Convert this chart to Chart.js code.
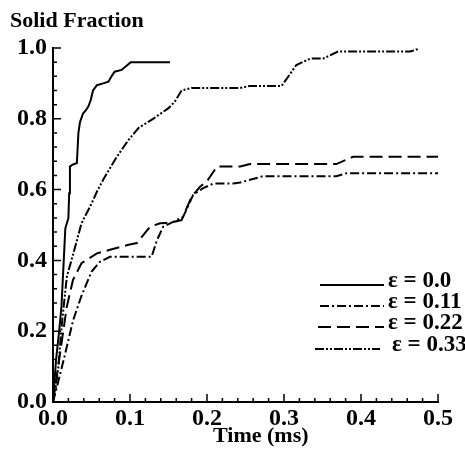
<!DOCTYPE html>
<html>
<head>
<meta charset="utf-8">
<script src="https://cdn.jsdelivr.net/npm/chart.js@4.4.0/dist/chart.umd.min.js"></script>
<style>
  body { margin: 0; background: #fff; }
</style>
</head>
<body>
<canvas id="solidFraction" width="465" height="453"></canvas>
<script>
const seriesLabels = ["ε = 0.0", "ε = 0.11", "ε = 0.22", "ε = 0.33"];

// time (ms) / solid fraction
const time00 = [0, 0.004, 0.008, 0.011, 0.016, 0.02, 0.021, 0.022, 0.025, 0.031, 0.033, 0.035, 0.039, 0.043, 0.046, 0.049, 0.052, 0.057, 0.065, 0.072, 0.076, 0.08, 0.089, 0.094, 0.101, 0.152];
const frac00 = [0, 0.12, 0.2, 0.27, 0.49, 0.52, 0.59, 0.665, 0.67, 0.675, 0.76, 0.79, 0.815, 0.825, 0.835, 0.853, 0.88, 0.895, 0.9, 0.905, 0.92, 0.933, 0.938, 0.947, 0.96, 0.96];

const time11 = [0, 0.006, 0.016, 0.026, 0.037, 0.05, 0.061, 0.074, 0.096, 0.128, 0.135, 0.143, 0.156, 0.169, 0.182, 0.195, 0.208, 0.234, 0.243, 0.273, 0.368, 0.381, 0.5];
const frac11 = [0, 0.05, 0.138, 0.23, 0.3, 0.368, 0.396, 0.41, 0.41, 0.41, 0.457, 0.495, 0.509, 0.523, 0.585, 0.604, 0.617, 0.617, 0.62, 0.638, 0.638, 0.646, 0.646];

const time22 = [0, 0.008, 0.018, 0.026, 0.037, 0.057, 0.074, 0.098, 0.109, 0.126, 0.139, 0.152, 0.167, 0.18, 0.191, 0.201, 0.213, 0.243, 0.256, 0.368, 0.39, 0.5];
const frac22 = [0, 0.12, 0.27, 0.345, 0.392, 0.42, 0.43, 0.444, 0.449, 0.495, 0.505, 0.506, 0.514, 0.58, 0.608, 0.627, 0.665, 0.665, 0.672, 0.672, 0.693, 0.693];

const time33 = [0, 0.004, 0.007, 0.011, 0.018, 0.029, 0.037, 0.05, 0.057, 0.065, 0.07, 0.083, 0.098, 0.111, 0.13, 0.15, 0.158, 0.167, 0.18, 0.243, 0.256, 0.297, 0.316, 0.334, 0.351, 0.37, 0.464, 0.474];
const frac33 = [0, 0.05, 0.1, 0.21, 0.354, 0.44, 0.505, 0.56, 0.594, 0.627, 0.646, 0.693, 0.74, 0.774, 0.8, 0.83, 0.848, 0.88, 0.887, 0.887, 0.893, 0.893, 0.952, 0.97, 0.97, 0.99, 0.99, 0.997];

const xTicks = [0, 0.1, 0.2, 0.3, 0.4, 0.5];
const yTicks = [0, 0.2, 0.4, 0.6, 0.8, 1.0];

const toPoints = (xs, ys) => xs.map((x, i) => ({ x: x, y: ys[i] }));

const serif = "'Liberation Serif', 'Times New Roman', serif";

const makeSet = (label, xs, ys, dash) => ({
  label: label,
  data: toPoints(xs, ys),
  borderColor: "#000",
  borderWidth: 2,
  borderDash: dash,
  pointRadius: 0,
  tension: 0,
  fill: false,
});

// inward major/minor tick marks like the original plot
const inwardTicks = {
  id: "inwardTicks",
  afterDatasetsDraw(chart) {
    const { ctx, chartArea, scales } = chart;
    ctx.save();
    ctx.strokeStyle = "#000";
    ctx.lineWidth = 1.5;
    ctx.setLineDash([]);
    ctx.beginPath();
    for (let i = 0; i <= 25; i++) {
      let px = scales.x.getPixelForValue(i * 0.02);
      let len = i % 5 === 0 ? 8 : 4;
      ctx.moveTo(px, chartArea.bottom);
      ctx.lineTo(px, chartArea.bottom - len);
    }
    for (let i = 0; i <= 25; i++) {
      let py = scales.y.getPixelForValue(i * 0.04);
      let len = i % 5 === 0 ? 8 : 4;
      ctx.moveTo(chartArea.left, py);
      ctx.lineTo(chartArea.left + len, py);
    }
    ctx.stroke();
    ctx.restore();
  },
};

const textsAndLegend = {
  id: "textsAndLegend",
  afterDraw(chart) {
    const ctx = chart.ctx;
    ctx.save();
    ctx.fillStyle = "#000";
    ctx.textBaseline = "alphabetic";
    ctx.font = "bold 22px " + serif;
    ctx.fillText("Solid Fraction", 10, 27);
    ctx.fillText("Time (ms)", 213, 442);

    const rows = [287, 308, 329, 351];
    const lineStart = [320, 320, 318, 315];
    chart.data.datasets.forEach((ds, i) => {
      let y = rows[i] - 2;
      ctx.strokeStyle = "#000";
      ctx.lineWidth = 2;
      ctx.setLineDash(ds.borderDash || []);
      ctx.beginPath();
      ctx.moveTo(lineStart[i], y);
      ctx.lineTo(i === 3 ? 380 : 384, y);
      ctx.stroke();
      ctx.setLineDash([]);
      ctx.font = "bold 23px " + serif;
      ctx.fillText(ds.label, i === 3 ? 392 : 388, rows[i]);
    });
    ctx.restore();
  },
};

let ctx = document.getElementById("solidFraction").getContext("2d");
new Chart(ctx, {
  type: "line",
  data: {
    datasets: [
      makeSet(seriesLabels[0], time00, frac00, []),
      makeSet(seriesLabels[1], time11, frac11, [9, 3, 2, 3]),
      makeSet(seriesLabels[2], time22, frac22, [13, 6]),
      makeSet(seriesLabels[3], time33, frac33, [9, 2, 2, 2, 2, 2]),
    ],
  },
  options: {
    responsive: false,
    animation: false,
    layout: { padding: { top: 48, right: 27, left: 0, bottom: 0 } },
    plugins: {
      legend: { display: false },
      tooltip: { enabled: false },
    },
    scales: {
      x: {
        type: "linear",
        min: 0,
        max: 0.5,
        afterFit: (s) => { s.height = 51; },
        afterBuildTicks: (s) => { s.ticks = xTicks.map((v) => ({ value: v })); },
        ticks: {
          padding: 2,
          color: "#000",
          font: { family: serif, size: 24, weight: "bold" },
          callback: (v) => v.toFixed(1),
          maxRotation: 0,
        },
        grid: { drawOnChartArea: false, drawTicks: false },
        border: { display: true, color: "#000", width: 2 },
      },
      y: {
        type: "linear",
        min: 0,
        max: 1,
        afterFit: (s) => { s.width = 53; },
        afterBuildTicks: (s) => { s.ticks = yTicks.map((v) => ({ value: v })); },
        ticks: {
          padding: 6,
          color: "#000",
          font: { family: serif, size: 24, weight: "bold" },
          callback: (v) => v.toFixed(1),
        },
        grid: { drawOnChartArea: false, drawTicks: false },
        border: { display: true, color: "#000", width: 2 },
      },
    },
  },
  plugins: [inwardTicks, textsAndLegend],
});
</script>
</body>
</html>
